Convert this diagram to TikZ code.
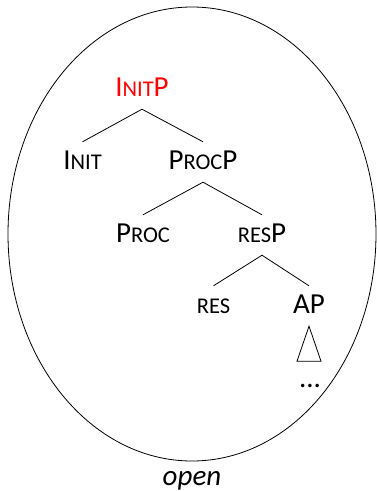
\documentclass[tikz,border=0pt]{standalone}
\usepackage{fontspec}
\setmainfont{Carlito}
\newcommand\fsc[1]{{\fontsize{22.5}{22.5}\selectfont #1}}
\tikzset{
  lbl/.style={anchor=base, font=\fontsize{29}{29}\selectfont, inner xsep=0pt, inner ysep=9pt, text height=18pt, text depth=4pt},
  br/.style={draw=black, line width=0.8pt},
}
\begin{document}
\begin{tikzpicture}[x=1pt,y=-1pt]
\useasboundingbox (0,0) rectangle (377,491);
\draw[line width=0.8pt] (192,234) ellipse [x radius=184, y radius=227];
\node[lbl, text=red] (initp) at (142,96) {I\fsc{NIT}P};
\node[lbl] (init) at (82.5,169) {I\fsc{NIT}};
\node[lbl] (procp) at (203,169) {P\fsc{ROC}P};
\node[lbl] (proc) at (143,242) {P\fsc{ROC}};
\node[lbl] (resp) at (262,242) {\fsc{RES}P};
\node[lbl] (res) at (213.5,313) {\fsc{RES}};
\node[lbl] (ap) at (309,313) {AP};
\node[lbl] (dots) at (310,387) {...};
\node[anchor=base, inner sep=0pt, font=\fontsize{29}{29}\selectfont\itshape] (open) at (192,485) {open};
\draw[br] (init.north) -- (initp.south) -- (procp.north);
\draw[br] (proc.north) -- (procp.south) -- (resp.north);
\draw[br] (res.north) -- (resp.south) -- (ap.north);
\coordinate (tl) at ([xshift=-12pt,yshift=-35pt]ap.south);
\coordinate (tr) at ([xshift=12pt,yshift=-35pt]ap.south);
\draw[br] (ap.south) -- (tl) -- (tr) -- cycle;
\end{tikzpicture}
\end{document}
